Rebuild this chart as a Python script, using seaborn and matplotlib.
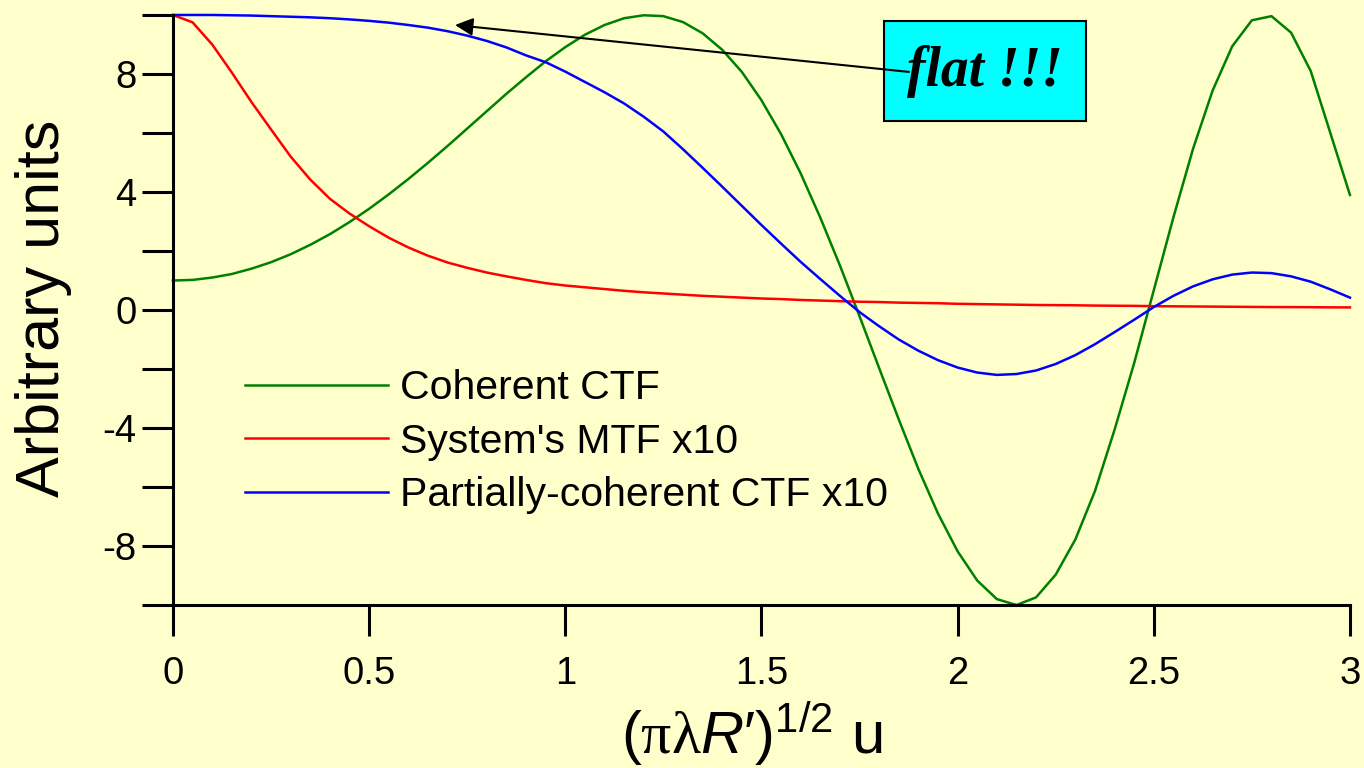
import numpy as np
import pandas as pd
import matplotlib
matplotlib.use('Agg')
import matplotlib.pyplot as plt
import seaborn as sns

# reduced spatial frequency (pi*lambda*R')^(1/2) u, sampled every 0.05
s = np.linspace(0, 3, 61)

coherent_ctf = [1.0, 1.02, 1.10, 1.22, 1.40, 1.62, 1.89, 2.21, 2.57, 2.98,
                3.43, 3.92, 4.44, 4.99, 5.56, 6.15, 6.74, 7.33, 7.89, 8.43,
                8.91, 9.33, 9.66, 9.89, 9.99, 9.96, 9.76, 9.38, 8.82, 8.07,
                7.11, 5.96, 4.63, 3.13, 1.51, -0.21, -1.97, -3.71, -5.39, -6.90,
                -8.18, -9.17, -9.80, -10.0, -9.74, -8.97, -7.78, -6.14, -4.06, -1.80,
                0.67, 3.14, 5.46, 7.44, 8.94, 9.82, 9.96, 9.40, 8.10, 6.00,
                3.90]

system_mtf = [10.0, 9.75, 9.0, 8.05, 7.05, 6.12, 5.2, 4.42, 3.77, 3.27,
              2.84, 2.45, 2.12, 1.84, 1.61, 1.43, 1.27, 1.14, 1.02, 0.91,
              0.83, 0.77, 0.71, 0.65, 0.60, 0.56, 0.52, 0.48, 0.45, 0.42,
              0.39, 0.37, 0.34, 0.32, 0.30, 0.28, 0.27, 0.25, 0.24, 0.23,
              0.21, 0.20, 0.19, 0.18, 0.17, 0.165, 0.16, 0.15, 0.145, 0.14,
              0.13, 0.125, 0.12, 0.115, 0.11, 0.105, 0.10, 0.098, 0.095, 0.09,
              0.088]

partial_ctf = [10.0, 10.0, 10.0, 9.99, 9.98, 9.96, 9.94, 9.92, 9.89, 9.85,
               9.80, 9.74, 9.66, 9.57, 9.45, 9.30, 9.12, 8.90, 8.63, 8.40,
               8.08, 7.73, 7.38, 7.00, 6.55, 6.05, 5.45, 4.82, 4.18, 3.53,
               2.88, 2.25, 1.63, 1.05, 0.48, -0.07, -0.55, -1.00, -1.38, -1.70,
               -1.95, -2.12, -2.20, -2.17, -2.05, -1.83, -1.53, -1.16, -0.75, -0.33,
               0.10, 0.48, 0.80, 1.04, 1.20, 1.27, 1.25, 1.14, 0.96, 0.70,
               0.42]

labels = ["Coherent CTF", "System's MTF x10", "Partially-coherent CTF x10"]
colors = ["#008000", "#FF0000", "#0000FF"]

x_ticks = [0, 0.5, 1, 1.5, 2, 2.5, 3]
x_ticklabels = ["0", "0.5", "1", "1.5", "2", "2.5", "3"]
y_major = [-8, -4, 0, 4, 8]
y_minor = [-10, -6, -2, 2, 6, 10]

df = pd.concat([
    pd.DataFrame({"s": s, "value": coherent_ctf, "curve": labels[0]}),
    pd.DataFrame({"s": s, "value": system_mtf, "curve": labels[1]}),
    pd.DataFrame({"s": s, "value": partial_ctf, "curve": labels[2]}),
])

bg = "#FFFFCC"
plt.rcParams['font.family'] = ['Liberation Sans', 'DejaVu Sans']
plt.rcParams['axes.unicode_minus'] = False
plt.rcParams['mathtext.fontset'] = 'custom'
plt.rcParams['mathtext.rm'] = 'Liberation Serif'
plt.rcParams['mathtext.sf'] = 'Liberation Sans'
plt.rcParams['mathtext.it'] = 'Liberation Sans:italic'

fig = plt.figure(figsize=(13.64, 7.68), dpi=100, facecolor=bg)
ax = fig.add_axes([0.1268, 0.2122, 0.9897 - 0.1268, 0.9805 - 0.2122])
ax.set_facecolor(bg)

sns.lineplot(data=df, x="s", y="value", hue="curve", hue_order=labels,
             palette=colors, linewidth=1.8, ax=ax, clip_on=False)

ax.set_xlim(0, 3)
ax.set_ylim(-10, 10)
ax.set_xticks(x_ticks)
ax.set_xticklabels(x_ticklabels)
ax.set_yticks(y_major)
ax.set_yticks(y_minor, minor=True)

for side in ["top", "right"]:
    ax.spines[side].set_visible(False)
for side in ["left", "bottom"]:
    ax.spines[side].set_linewidth(2.2)

ax.tick_params(axis='both', which='both', direction='out', length=22,
               width=2.2, labelsize=27.5)
ax.tick_params(axis='x', pad=15)
ax.tick_params(axis='y', pad=4)

ax.set_ylabel("Arbitrary units", fontsize=44)
ax.yaxis.set_label_coords(-0.086, 0.503)
ax.set_xlabel("$\\mathsf{(}\\mathrm{\\pi\\lambda}\\mathit{R}\\mathsf{\u2032)}^{\\mathsf{1/2}}\\mathsf{\\ u}$",
              fontsize=43, va='top')
ax.xaxis.set_label_coords(0.492, -0.160)

leg = ax.legend(loc='upper left', bbox_to_anchor=(0.061, 0.40), frameon=False,
                fontsize=29.5, handlelength=3.5, handletextpad=0.3,
                labelspacing=0.38, borderpad=0, borderaxespad=0)

# callout
ax.text(2.07, 8.1, "flat !!!", fontsize=40, fontweight='bold', fontstyle='italic',
        family='Liberation Serif', ha='center', va='center', zorder=4,
        bbox=dict(boxstyle='square,pad=0.42', facecolor='#00FFFF',
                  edgecolor='black', linewidth=1.5))
ax.annotate('', xy=(0.719, 9.66), xytext=(1.876, 8.07), zorder=6,
            arrowprops=dict(arrowstyle='-|>', color='black', lw=1.5,
                            mutation_scale=27, shrinkA=0, shrinkB=0))

fig.savefig("out.png", dpi=100, facecolor=bg)
